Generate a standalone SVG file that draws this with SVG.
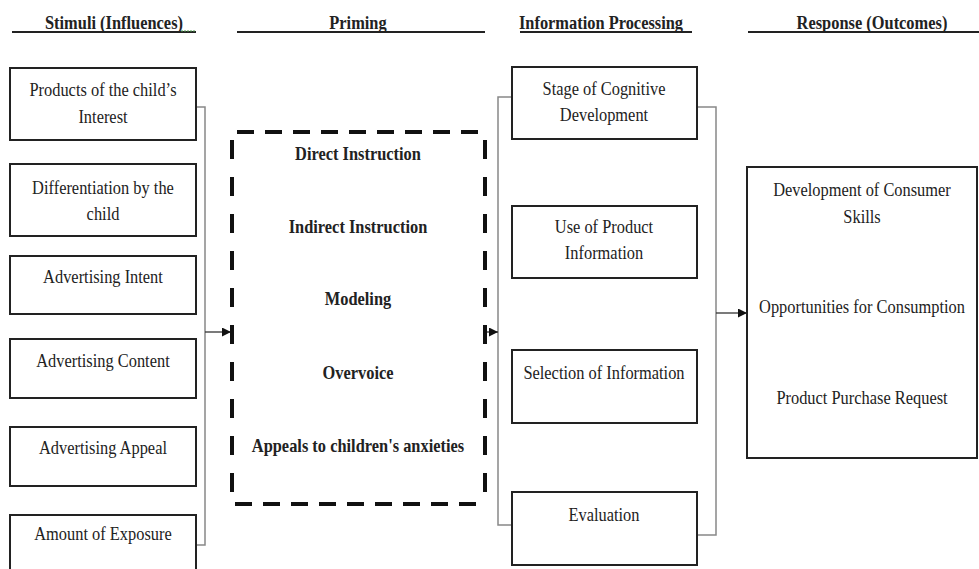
<svg xmlns="http://www.w3.org/2000/svg" width="979" height="569" viewBox="0 0 979 569">
  <style>
    text { font-family: "Liberation Serif", "Times New Roman", serif; font-size: 16.4px; fill: #222; text-anchor: middle;
           transform-box: fill-box; transform-origin: center; transform: scaleY(1.2); }
    .hd { font-weight: bold; }
    .pr { font-weight: bold; }
    .box { fill: #fff; stroke: #222; stroke-width: 2; }
    .rule { stroke: #222; stroke-width: 2; }
    .wire { fill: none; stroke: #888; stroke-width: 1.5; }
    .shaft { stroke: #333; stroke-width: 1.3; marker-end: url(#head); }
    .dash { stroke: #111; stroke-width: 4; fill: none; }
  </style>
  <defs>
    <marker id="head" viewBox="0 0 10 10" refX="10" refY="5" markerWidth="9" markerHeight="9" markerUnits="userSpaceOnUse" orient="auto">
      <path d="M0,0 L10,5 L0,10 z" fill="#111"/>
    </marker>
  </defs>
  <rect width="979" height="569" fill="#fff"/>

  <!-- column headings -->
  <g id="headings">
    <text class="hd" x="114" y="28">Stimuli (Influences)</text>
    <line class="rule" x1="12" y1="32" x2="196" y2="32"/>
    <line x1="181" y1="31" x2="195" y2="31" stroke="#4a9a4a" stroke-width="1" stroke-dasharray="2 1"/>
    <text class="hd" x="358" y="28">Priming</text>
    <line class="rule" x1="237" y1="32" x2="485" y2="32"/>
    <text class="hd" x="601" y="28">Information Processing</text>
    <line class="rule" x1="520" y1="32" x2="692" y2="32"/>
    <text class="hd" x="872" y="28">Response (Outcomes)</text>
    <line class="rule" x1="748" y1="32" x2="979" y2="32"/>
  </g>

  <!-- connectors -->
  <g id="connectors">
    <polyline class="wire" points="196,107 205,107 205,545 196,545"/>
    <line class="shaft" x1="205" y1="332" x2="231" y2="332"/>
    <polyline class="wire" points="512,97 498,97 498,525 512,525"/>
    <line class="shaft" x1="485" y1="332" x2="498" y2="332"/>
    <polyline class="wire" points="697,107 716,107 716,535 697,535"/>
    <line class="shaft" x1="716" y1="313" x2="747" y2="313"/>
  </g>

  <!-- stimuli -->
  <g id="stimulus-interest">
    <rect class="box" x="10" y="68" width="186" height="72"/>
    <text x="103" y="95">Products of the child’s</text>
    <text x="103" y="122">Interest</text>
  </g>
  <g id="stimulus-differentiation">
    <rect class="box" x="10" y="164" width="186" height="72"/>
    <text x="103" y="193">Differentiation by the</text>
    <text x="103" y="219">child</text>
  </g>
  <g id="stimulus-intent">
    <rect class="box" x="10" y="256" width="186" height="58"/>
    <text x="103" y="282">Advertising Intent</text>
  </g>
  <g id="stimulus-content">
    <rect class="box" x="10" y="339" width="186" height="59"/>
    <text x="103" y="366">Advertising Content</text>
  </g>
  <g id="stimulus-appeal">
    <rect class="box" x="10" y="427" width="186" height="59"/>
    <text x="103" y="453">Advertising Appeal</text>
  </g>
  <g id="stimulus-exposure">
    <rect class="box" x="10" y="515" width="186" height="60"/>
    <text x="103" y="539">Amount of Exposure</text>
  </g>

  <!-- priming -->
  <g id="priming">
    <line class="dash" x1="237" y1="132" x2="485" y2="132" stroke-dasharray="17 11"/>
    <line class="dash" x1="235" y1="504" x2="485" y2="504" stroke-dasharray="17 11"/>
    <line class="dash" x1="232" y1="140" x2="232" y2="492" stroke-dasharray="19 18"/>
    <line class="dash" x1="485" y1="140" x2="485" y2="492" stroke-dasharray="19 18"/>
    <text class="pr" x="358" y="159">Direct Instruction</text>
    <text class="pr" x="358" y="232">Indirect Instruction</text>
    <text class="pr" x="358" y="304">Modeling</text>
    <text class="pr" x="358" y="378">Overvoice</text>
    <text class="pr" x="358" y="451">Appeals to children's  anxieties</text>
  </g>

  <!-- information processing -->
  <g id="process-cognitive">
    <rect class="box" x="512" y="67" width="185" height="72"/>
    <text x="604" y="94">Stage of Cognitive</text>
    <text x="604" y="120">Development</text>
  </g>
  <g id="process-product-info">
    <rect class="box" x="512" y="206" width="185" height="72"/>
    <text x="604" y="232">Use of Product</text>
    <text x="604" y="258">Information</text>
  </g>
  <g id="process-selection">
    <rect class="box" x="512" y="350" width="185" height="73"/>
    <text x="604" y="378">Selection of Information</text>
  </g>
  <g id="process-evaluation">
    <rect class="box" x="512" y="492" width="185" height="73"/>
    <text x="604" y="520">Evaluation</text>
  </g>

  <!-- responses -->
  <g id="response">
    <rect class="box" x="747" y="167" width="230" height="291"/>
    <text x="862" y="195">Development of Consumer</text>
    <text x="862" y="222">Skills</text>
    <text x="862" y="312">Opportunities for Consumption</text>
    <text x="862" y="403">Product Purchase Request</text>
  </g>
</svg>
